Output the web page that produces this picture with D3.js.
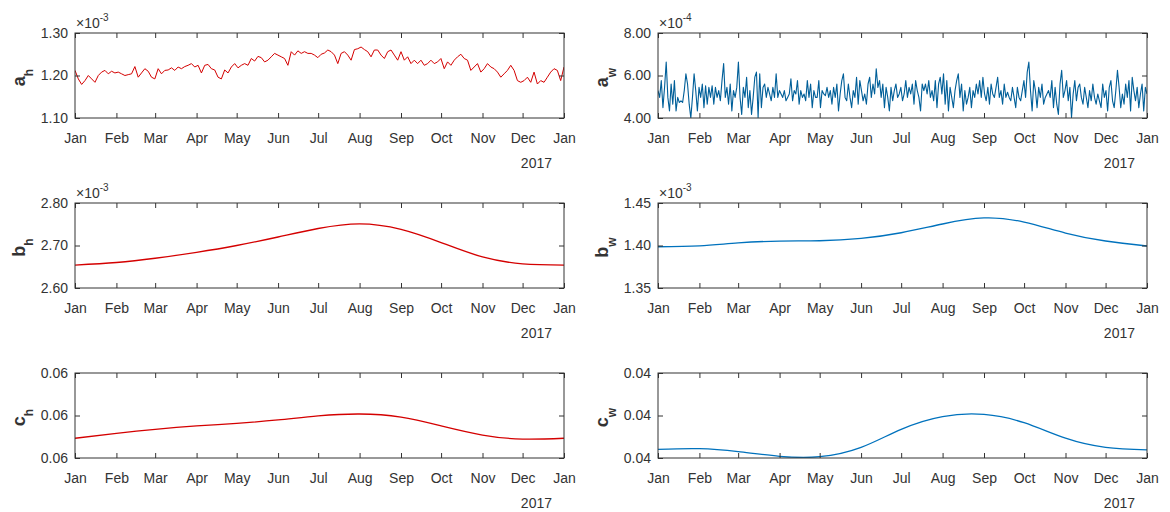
<!DOCTYPE html>
<html>
<head>
<meta charset="utf-8">
<script src="https://cdn.jsdelivr.net/npm/d3@7"></script>
<style>
  body { margin: 0; background: #fff; }
  svg text { font-family: "Liberation Sans", Arial, Helvetica, sans-serif; fill: #333; }
</style>
</head>
<body>
<svg id="fig" width="1170" height="512"></svg>
<script>
// ---- data (year 2016) ----
// a_h, x10^-3, evenly spaced over the year
var ahVals = [
  1.212,1.192,1.179,1.188,1.200,1.192,1.184,1.200,1.208,1.212,
  1.204,1.210,1.206,1.208,1.204,1.200,1.202,1.204,1.221,1.196,
  1.206,1.216,1.210,1.196,1.192,1.216,1.204,1.212,1.213,1.218,
  1.212,1.220,1.216,1.221,1.224,1.228,1.220,1.224,1.206,1.224,
  1.226,1.216,1.213,1.196,1.192,1.213,1.206,1.220,1.228,1.218,
  1.224,1.228,1.224,1.240,1.234,1.245,1.242,1.232,1.236,1.244,
  1.252,1.248,1.244,1.240,1.224,1.256,1.248,1.258,1.252,1.256,
  1.252,1.252,1.248,1.242,1.250,1.253,1.260,1.256,1.248,1.228,
  1.252,1.256,1.248,1.236,1.261,1.263,1.267,1.261,1.256,1.244,
  1.260,1.260,1.248,1.240,1.256,1.260,1.248,1.236,1.256,1.236,
  1.244,1.228,1.236,1.228,1.236,1.224,1.228,1.236,1.228,1.232,
  1.240,1.216,1.232,1.224,1.236,1.244,1.250,1.240,1.236,1.212,
  1.220,1.228,1.208,1.216,1.228,1.220,1.216,1.208,1.196,1.204,
  1.212,1.224,1.212,1.188,1.184,1.188,1.196,1.184,1.208,1.180,
  1.188,1.184,1.196,1.208,1.216,1.212,1.188,1.220
];
// a_w, x10^-4, evenly spaced over the year
var awVals = [
  5.29,4.97,5.76,4.49,5.44,6.63,4.97,4.33,5.60,4.65,
  5.76,4.33,4.97,4.73,4.81,4.73,5.29,6.08,5.60,4.65,
  4.00,4.97,6.08,5.29,4.33,5.44,4.97,5.60,4.49,5.52,
  4.65,5.44,4.97,5.52,4.65,5.44,4.97,5.29,4.81,5.76,
  6.56,4.97,5.44,4.65,5.60,4.33,5.29,4.97,5.44,6.63,
  4.97,4.17,5.44,4.97,5.92,4.49,5.29,4.17,4.97,5.92,
  6.16,4.02,6.08,4.49,5.44,5.60,4.97,5.44,5.13,4.81,
  5.44,4.97,6.08,4.97,5.29,5.13,4.97,5.29,4.81,4.97,
  5.13,5.84,4.81,5.29,5.13,5.76,4.65,5.29,4.97,5.13,
  4.81,5.76,4.97,5.60,4.49,5.29,4.97,4.97,5.76,4.49,
  5.29,5.13,5.05,5.44,4.97,5.29,4.65,5.44,4.97,5.60,
  4.33,5.13,5.76,6.08,4.97,4.81,5.60,4.97,4.49,5.29,
  4.97,5.92,4.65,5.76,5.29,4.81,5.13,4.65,5.60,5.92,
  4.97,5.60,5.13,6.32,5.44,5.76,4.97,5.60,4.49,5.44,
  4.97,4.33,5.44,4.81,5.29,5.60,4.97,5.13,5.44,4.81,
  5.13,5.76,4.97,5.44,5.13,5.60,4.65,5.76,5.29,4.97,
  4.33,5.60,5.29,5.60,5.13,5.76,4.97,5.29,4.81,5.76,
  4.49,5.60,5.92,5.13,6.08,4.65,5.76,4.33,5.44,4.97,
  4.49,5.29,5.76,6.08,4.97,5.60,4.33,5.29,4.65,4.97,
  5.44,4.49,5.29,4.97,5.60,5.13,5.76,4.97,5.92,5.13,
  4.81,5.44,4.65,5.60,5.13,4.97,5.44,5.92,4.97,5.29,
  4.65,5.60,4.97,5.21,4.97,4.81,5.44,4.97,4.49,5.44,
  4.97,4.81,5.29,5.76,4.97,6.16,6.63,5.29,4.33,5.76,
  5.29,4.49,5.44,4.97,5.60,4.65,4.97,5.13,5.29,4.97,
  5.76,4.49,5.44,4.65,4.17,5.60,6.24,4.97,5.29,5.76,
  4.81,5.44,4.02,5.13,5.76,4.81,5.44,5.60,4.97,4.65,
  5.44,4.97,4.49,5.29,4.81,5.60,4.97,4.65,5.13,4.81,
  4.49,5.60,4.97,5.29,4.33,5.44,5.76,4.81,4.49,5.29,
  6.24,5.44,4.49,5.13,4.65,5.60,4.97,5.76,4.33,5.92,
  5.29,4.81,5.44,4.49,5.13,5.60,4.33,5.44,5.13
];
// smooth series, one value at each month start (Jan 2016 .. Jan 2017)
var bhVals = [2.654, 2.660, 2.670, 2.684, 2.700, 2.720, 2.740, 2.751, 2.738, 2.707, 2.673, 2.657, 2.654];
var bwVals = [1.3985, 1.3995, 1.4030, 1.4052, 1.4056, 1.4084, 1.4150, 1.4253, 1.4324, 1.4276, 1.4147, 1.4053, 1.3994];
var chVals = [0.05893, 0.05916, 0.05935, 0.05951, 0.05963, 0.05979, 0.05998, 0.06007, 0.05992, 0.05951, 0.05908, 0.05889, 0.05893];
var cwVals = [0.04041, 0.04044, 0.04030, 0.04008, 0.04006, 0.04050, 0.04135, 0.04195, 0.04205, 0.04166, 0.04093, 0.04050, 0.04038];

// y tick values
var ahTicks = [1.10, 1.20, 1.30];
var awTicks = [4.00, 6.00, 8.00];
var bhTicks = [2.60, 2.70, 2.80];
var bwTicks = [1.35, 1.40, 1.45];
var chTicks = [0.058, 0.060, 0.062];
var cwTicks = [0.040, 0.042, 0.044];

var RED = "#d40000";
var BLUE = "#0072bd";
var BLUE_DARK = "#005f99";
var INK = "#333333";

var start = new Date(2016, 0, 1);
var end = new Date(2017, 0, 1);
var monthDates = d3.timeMonth.range(start, d3.timeDay.offset(end, 1));

function evenDates(n) {
  var step = (end - start) / (n - 1);
  return d3.range(n).map(function (i) { return new Date(+start + i * step); });
}

// layout of the 3x2 grid
var colX = [[75, 564], [658, 1147]];
var rowY = [[33, 118], [203, 288], [373, 458]];
var labelX = [25, 608];

var panels = [
  { row: 0, col: 0, vals: ahVals, dates: evenDates(ahVals.length), ticks: ahTicks, color: RED, width: 1, smooth: false, exp: "-3", sym: "a", sub: "h" },
  { row: 0, col: 1, vals: awVals, dates: evenDates(awVals.length), ticks: awTicks, color: BLUE_DARK, width: 1.1, smooth: false, exp: "-4", sym: "a", sub: "w" },
  { row: 1, col: 0, vals: bhVals, dates: monthDates, ticks: bhTicks, color: RED, width: 1.3, smooth: true, exp: "-3", sym: "b", sub: "h" },
  { row: 1, col: 1, vals: bwVals, dates: monthDates, ticks: bwTicks, color: BLUE, width: 1.3, smooth: true, exp: "-3", sym: "b", sub: "w" },
  { row: 2, col: 0, vals: chVals, dates: monthDates, ticks: chTicks, color: RED, width: 1.3, smooth: true, exp: null, sym: "c", sub: "h" },
  { row: 2, col: 1, vals: cwVals, dates: monthDates, ticks: cwTicks, color: BLUE, width: 1.3, smooth: true, exp: null, sym: "c", sub: "w" }
];

var svg = d3.select("#fig");
var defs = svg.append("defs");

panels.forEach(function (p, idx) {
  var left = colX[p.col][0], right = colX[p.col][1];
  var top = rowY[p.row][0], bottom = rowY[p.row][1];

  var x = d3.scaleTime().domain([start, end]).range([left, right]);
  var y = d3.scaleLinear().domain(d3.extent(p.ticks)).range([bottom, top]);

  var g = svg.append("g");

  defs.append("clipPath").attr("id", "clip" + idx)
    .append("rect").attr("x", left).attr("y", top)
    .attr("width", right - left).attr("height", bottom - top);

  var pts = p.vals.map(function (v, i) { return { date: p.dates[i], v: v }; });
  var line = d3.line()
    .x(function (d) { return x(d.date); })
    .y(function (d) { return y(d.v); })
    .curve(p.smooth ? d3.curveNatural : d3.curveLinear);

  g.append("path")
    .datum(pts)
    .attr("clip-path", "url(#clip" + idx + ")")
    .attr("fill", "none")
    .attr("stroke", p.color)
    .attr("stroke-width", p.width)
    .attr("stroke-linejoin", "round")
    .attr("d", line);

  // axes, ticks pointing inwards on all four sides
  var axB = g.append("g").attr("transform", "translate(0," + bottom + ")")
    .call(d3.axisBottom(x).tickValues(monthDates).tickFormat(d3.timeFormat("%b"))
      .tickSizeInner(-5).tickSizeOuter(0).tickPadding(15));
  var axT = g.append("g").attr("transform", "translate(0," + top + ")")
    .call(d3.axisTop(x).tickValues(monthDates).tickFormat(function () { return ""; })
      .tickSizeInner(-5).tickSizeOuter(0));
  var axL = g.append("g").attr("transform", "translate(" + left + ",0)")
    .call(d3.axisLeft(y).tickValues(p.ticks).tickFormat(function (d) { return d.toFixed(2); })
      .tickSizeInner(-5).tickSizeOuter(0).tickPadding(7));
  var axR = g.append("g").attr("transform", "translate(" + right + ",0)")
    .call(d3.axisRight(y).tickValues(p.ticks).tickFormat(function () { return ""; })
      .tickSizeInner(-5).tickSizeOuter(0));

  [axB, axT, axL, axR].forEach(function (a) {
    a.attr("font-size", 14).attr("font-family", null);
    a.select(".domain").remove();
    a.selectAll(".tick line").attr("stroke", INK);
    a.selectAll(".tick text").attr("fill", INK);
  });

  g.append("rect")
    .attr("x", left).attr("y", top)
    .attr("width", right - left).attr("height", bottom - top)
    .attr("fill", "none").attr("stroke", INK).attr("stroke-width", 1);

  // secondary date label
  g.append("text")
    .attr("x", right - 12).attr("y", bottom + 50)
    .attr("text-anchor", "end").attr("font-size", 14)
    .text("2017");

  // exponent
  if (p.exp) {
    var ex = g.append("text")
      .attr("x", left + 1).attr("y", top - 5)
      .attr("font-size", 14);
    ex.append("tspan").text("\u00d710");
    ex.append("tspan").attr("font-size", 10).attr("dy", -7).text(p.exp);
  }

  // y label with subscript
  var yl = g.append("text")
    .attr("transform", "translate(" + labelX[p.col] + "," + ((top + bottom) / 2 + 2) + ") rotate(-90)")
    .attr("text-anchor", "middle")
    .attr("font-weight", "bold")
    .attr("font-size", 18);
  yl.append("tspan").text(p.sym);
  yl.append("tspan").attr("font-size", 12).attr("dy", 8).text(p.sub);
});
</script>
</body>
</html>
